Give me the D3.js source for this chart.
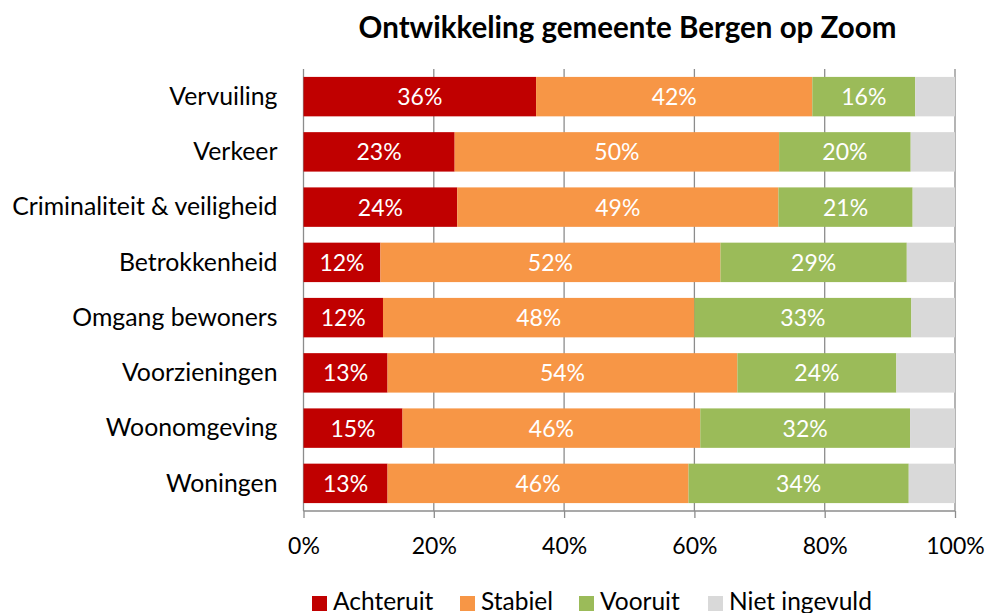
<!DOCTYPE html>
<html>
<head>
<meta charset="utf-8">
<script src="https://cdn.jsdelivr.net/npm/d3@7"></script>
<style>
  body { margin: 0; background: #fff; }
  text { font-family: Lato, "Open Sans", sans-serif; }
</style>
</head>
<body>
<svg id="chart" width="987" height="613"></svg>
<script>
var categories = ["Vervuiling", "Verkeer", "Criminaliteit & veiligheid", "Betrokkenheid",
                  "Omgang bewoners", "Voorzieningen", "Woonomgeving", "Woningen"];
var seriesNames = ["Achteruit", "Stabiel", "Vooruit", "Niet ingevuld"];
var achteruit = [35.7, 23.2, 23.6, 11.8, 12.2, 12.9, 15.2, 12.9];
var stabiel   = [42.4, 49.8, 49.3, 52.2, 47.8, 53.7, 45.7, 46.2];
var vooruit   = [15.8, 20.2, 20.6, 28.6, 33.3, 24.4, 32.2, 33.8];
var nietIngevuld = [6.1, 6.8, 6.5, 7.4, 6.7, 9.0, 6.9, 7.1];
var tickValues = [0, 20, 40, 60, 80, 100];
var colors = ["#C00000", "#F79646", "#9BBB59", "#D9D9D9"];

var svg = d3.select("#chart"),
    MARGINS = { top: 69, right: 32, bottom: 102, left: 303.5 },
    WIDTH = +svg.attr("width"),
    HEIGHT = +svg.attr("height");

var rows = categories.map(function (c, i) {
  return { cat: c, Achteruit: achteruit[i], Stabiel: stabiel[i], Vooruit: vooruit[i], "Niet ingevuld": nietIngevuld[i] };
});

var xScale = d3.scaleLinear().domain([0, 100]).range([MARGINS.left, WIDTH - MARGINS.right]),
    yScale = d3.scaleBand().domain(categories).range([MARGINS.top, HEIGHT - MARGINS.bottom])
               .paddingInner(0.286).paddingOuter(0.143),
    color = d3.scaleOrdinal().domain(seriesNames).range(colors);

var stacked = d3.stack().keys(seriesNames)(rows);
var yBottom = HEIGHT - MARGINS.bottom;

// title
svg.append("text")
    .attr("x", 627.5).attr("y", 38)
    .attr("text-anchor", "middle")
    .style("font-size", "29.5px").style("font-weight", "bold")
    .text("Ontwikkeling gemeente Bergen op Zoom");

// gridlines
svg.append("g").selectAll("line")
  .data(tickValues)
  .enter().append("line")
    .attr("x1", function (d) { return xScale(d); })
    .attr("x2", function (d) { return xScale(d); })
    .attr("y1", MARGINS.top).attr("y2", yBottom)
    .attr("stroke", "#8c8c8c").attr("stroke-width", 1.3);

// bars
var layer = svg.append("g").selectAll("g")
  .data(stacked)
  .enter().append("g")
    .attr("fill", function (d) { return color(d.key); });

layer.selectAll("rect")
  .data(function (d) { return d; })
  .enter().append("rect")
    .attr("x", function (d) { return xScale(d[0]); })
    .attr("width", function (d) { return xScale(d[1]) - xScale(d[0]); })
    .attr("y", function (d) { return yScale(d.data.cat); })
    .attr("height", yScale.bandwidth());

// value labels (not for "Niet ingevuld")
layer.filter(function (d) { return d.key !== "Niet ingevuld"; })
  .selectAll("text")
  .data(function (d) { return d; })
  .enter().append("text")
    .attr("x", function (d) { return (xScale(d[0]) + xScale(d[1])) / 2; })
    .attr("y", function (d) { return yScale(d.data.cat) + yScale.bandwidth() / 2 + 8.5; })
    .attr("text-anchor", "middle")
    .attr("fill", "#fff")
    .style("font-size", "23px")
    .text(function (d) { return Math.round(d[1] - d[0]) + "%"; });

// x axis
var xAxis = d3.axisBottom(xScale).tickValues(tickValues).tickSize(7)
    .tickFormat(function (d) { return d + "%"; });
var gx = svg.append("g")
    .attr("transform", "translate(0," + yBottom + ")")
    .call(xAxis);
gx.select(".domain").attr("stroke", "#8c8c8c").attr("stroke-width", 1.3).attr("d", "M" + xScale(0) + ",0H" + xScale(100));
gx.selectAll(".tick line").attr("stroke", "#8c8c8c").attr("stroke-width", 1.3);
gx.selectAll(".tick text").attr("y", 42.5).attr("dy", null)
    .style("font-size", "23px").style("font-family", "Lato, sans-serif").attr("fill", "#000");

// y axis labels
var yAxis = d3.axisLeft(yScale).tickSize(0).tickPadding(26);
var gy = svg.append("g")
    .attr("transform", "translate(" + MARGINS.left + ",0)")
    .call(yAxis);
gy.select(".domain").remove();
gy.selectAll(".tick text").attr("dy", "0.33em")
    .style("font-size", "24.8px").style("font-family", "Lato, sans-serif").attr("fill", "#000");

// legend
var legendX = [312, 460, 579, 708];
var legend = svg.append("g").selectAll("g")
  .data(seriesNames)
  .enter().append("g")
    .attr("transform", function (d, i) { return "translate(" + legendX[i] + ",596)"; });
legend.append("rect").attr("width", 15).attr("height", 15)
    .attr("fill", function (d) { return color(d); });
legend.append("text").attr("x", 21).attr("y", 13.5)
    .style("font-size", "24.5px")
    .text(function (d) { return d; });
</script>
</body>
</html>
